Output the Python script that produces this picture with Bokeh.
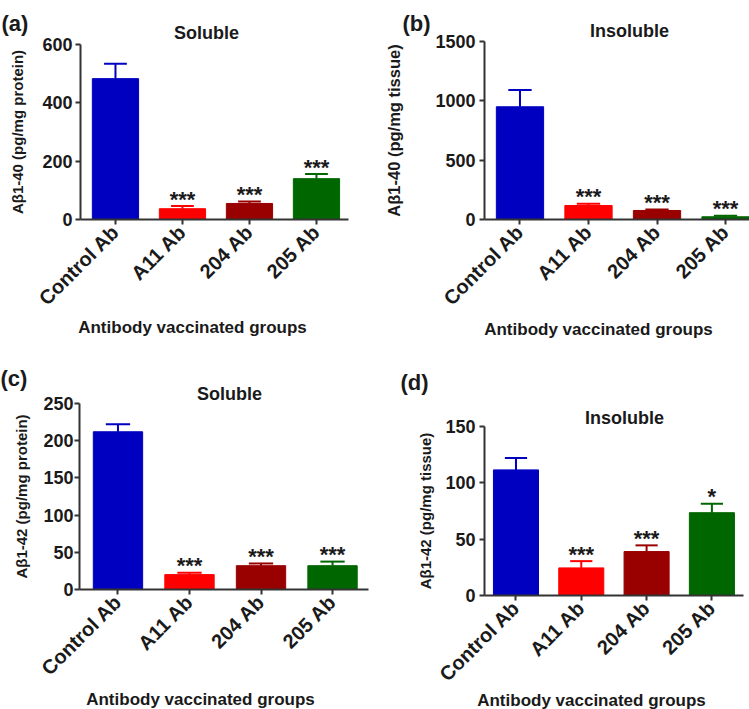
import math
from bokeh.plotting import figure
from bokeh.models import Range1d, FixedTicker, Label, ColumnDataSource
from bokeh.layouts import gridplot
from bokeh.embed import file_html
from bokeh.resources import INLINE
from bokeh.core.properties import value

# ---------------- data ----------------
groups = ["Control Ab", "A11 Ab", "204 Ab", "205 Ab"]
bar_colors = ["#0000C0", "#FF0000", "#990000", "#006600"]

# (a) Soluble Aβ1-40 (pg/mg protein)
a_mean = [483, 37, 55, 140]
a_sem = [51, 9, 7, 16]
a_sig = ["", "***", "***", "***"]
a_yticks = [0, 200, 400, 600]

# (b) Insoluble Aβ1-40 (pg/mg tissue)
b_mean = [950, 118, 76, 23]
b_sem = [141, 15, 9, 8]
b_sig = ["", "***", "***", "***"]
b_yticks = [0, 500, 1000, 1500]

# (c) Soluble Aβ1-42 (pg/mg protein)
c_mean = [212, 20, 32, 32]
c_sem = [10, 2.5, 3, 5.5]
c_sig = ["", "***", "***", "***"]
c_yticks = [0, 50, 100, 150, 200, 250]

# (d) Insoluble Aβ1-42 (pg/mg tissue)
d_mean = [111.5, 24.5, 39, 73.5]
d_sem = [10.5, 6, 5.5, 8]
d_sig = ["", "***", "***", "*"]
d_yticks = [0, 50, 100, 150]

xlabel_text = "Antibody vaccinated groups"

FONT = "Liberation Sans"
TXT = "#1a1a1a"
AX = "#333333"


def panel(mean, sem, sig, yticks, ylabel, title, letter, L):
    W, H = L["W"], L["H"]
    x0, x1 = L["x0"], L["x1"]
    ymax = yticks[-1]
    # pixel layout -> ranges (frame covers the whole figure; axes sit at fixed locations)
    kx = (L["XR"] - L["XL"]) / (x1 - x0)
    ky = (L["YB"] - L["YT"]) / ymax
    xr = Range1d(x0 - L["XL"] / kx, x1 + (W - L["XR"]) / kx)
    yr = Range1d(0 - (H - L["YB"]) / ky, ymax + L["YT"] / ky)

    idx = list(range(len(groups)))
    p = figure(width=W, height=H, output_backend="svg", toolbar_location=None,
               x_range=xr, y_range=yr,
               min_border=0, min_border_left=0, min_border_right=0,
               min_border_top=0, min_border_bottom=0)
    p.title.visible = False
    p.outline_line_color = None
    p.grid.visible = False
    p.background_fill_color = "white"
    p.border_fill_color = "white"

    top = [m + s for m, s in zip(mean, sem)]
    bw = 0.69
    cap = 0.17
    src = ColumnDataSource(dict(x=idx, mean=mean, top=top, color=bar_colors, sig=sig,
                                cl=[i - cap for i in idx], cr=[i + cap for i in idx]))
    p.segment(x0="x", y0="mean", x1="x", y1="top", source=src, line_color="color", line_width=2)
    p.segment(x0="cl", y0="top", x1="cr", y1="top", source=src, line_color="color", line_width=2)
    p.vbar(x="x", bottom=0, top="mean", width=bw, source=src,
           fill_color="color", line_color="color", line_width=1)
    p.text(x="x", y="top", text="sig", source=src, text_align="center",
           text_baseline="alphabetic", text_font=value(FONT), text_font_style="bold",
           text_font_size="22px", text_color=TXT, y_offset=-7)

    # axes at fixed locations
    for ax in (p.xaxis[0], p.yaxis[0]):
        ax.axis_line_color = AX
        ax.axis_line_width = 2
        ax.major_tick_line_color = AX
        ax.major_tick_line_width = 2
        ax.major_tick_out = 5
        ax.major_tick_in = 0
        ax.minor_tick_line_color = None
        ax.major_label_text_font = FONT
        ax.major_label_text_font_style = "bold"
        ax.major_label_text_color = TXT

    p.xaxis.fixed_location = 0
    p.xaxis.bounds = (x0, x1)
    p.xaxis.ticker = FixedTicker(ticks=idx)
    p.xaxis.major_label_overrides = {i: g for i, g in zip(idx, groups)}
    p.xaxis.major_label_orientation = math.pi / 4
    p.xaxis.major_label_standoff = 4
    p.xaxis.major_label_text_font_size = "20px"

    p.yaxis.fixed_location = x0
    p.yaxis.bounds = (0, ymax)
    p.yaxis.ticker = FixedTicker(ticks=yticks)
    p.yaxis.major_label_text_font_size = "18px"
    p.yaxis.major_label_standoff = L["yls"]
    p.yaxis.axis_label = ylabel
    p.yaxis.axis_label_text_font = FONT
    p.yaxis.axis_label_text_font_style = "bold"
    p.yaxis.axis_label_text_font_size = L.get("ylfs", "15px")
    p.yaxis.axis_label_text_color = TXT
    p.yaxis.axis_label_standoff = L["ylstand"]

    # title, panel letter, x label (screen units, y measured upward from the bottom)
    p.add_layout(Label(x=L["tx"], y=H - L["ty"], x_units="screen", y_units="screen", text=title,
                       text_align="center", text_baseline="alphabetic", text_font=FONT,
                       text_font_style="bold", text_font_size="18px", text_color=TXT))
    p.add_layout(Label(x=L["lx"], y=H - L["ly"], x_units="screen", y_units="screen", text=letter,
                       text_align="left", text_baseline="top", text_font=FONT,
                       text_font_style="bold", text_font_size="22px", text_color=TXT))
    p.add_layout(Label(x=L["xx"], y=H - L["xy"], x_units="screen", y_units="screen", text=xlabel_text,
                       text_align="center", text_baseline="alphabetic", text_font=FONT,
                       text_font_style="bold", text_font_size="17px", text_color=TXT))
    return p


pa = panel(a_mean, a_sem, a_sig, a_yticks, "Aβ1-40 (pg/mg protein)", "Soluble", "(a)",
           dict(W=375, H=340, XL=80, XR=348, YT=44, YB=219, x0=-0.522, x1=3.478,
                yls=3, ylstand=13, tx=206, ty=32, lx=1, ly=10, xx=192, xy=327))
pb = panel(b_mean, b_sem, b_sig, b_yticks, "Aβ1-40 (pg/mg tissue)", "Insoluble", "(b)",
           dict(W=374, H=340, XL=109, XR=374, YT=41, YB=219, x0=-0.518, x1=3.35,
                yls=4, ylstand=29, ylfs="16.5px", tx=254, ty=30, lx=27, ly=10, xx=223, xy=329))
pc = panel(c_mean, c_sem, c_sig, c_yticks, "Aβ1-42 (pg/mg protein)", "Soluble", "(c)",
           dict(W=375, H=369, XL=79, XR=368, YT=63, YB=249, x0=-0.538, x1=3.503,
                yls=1, ylstand=10, tx=229, ty=53, lx=0, ly=25, xx=200, xy=359))
pd_ = panel(d_mean, d_sem, d_sig, d_yticks, "Aβ1-42 (pg/mg tissue)", "Insoluble", "(d)",
            dict(W=374, H=369, XL=109, XR=368, YT=86, YB=255, x0=-0.482, x1=3.484,
                 yls=4, ylstand=8, tx=249, ty=77, lx=25, ly=29, xx=216, xy=360))

grid = gridplot([[pa, pb], [pc, pd_]], toolbar_location=None)

open("out.html", "w").write(file_html(grid, INLINE))
